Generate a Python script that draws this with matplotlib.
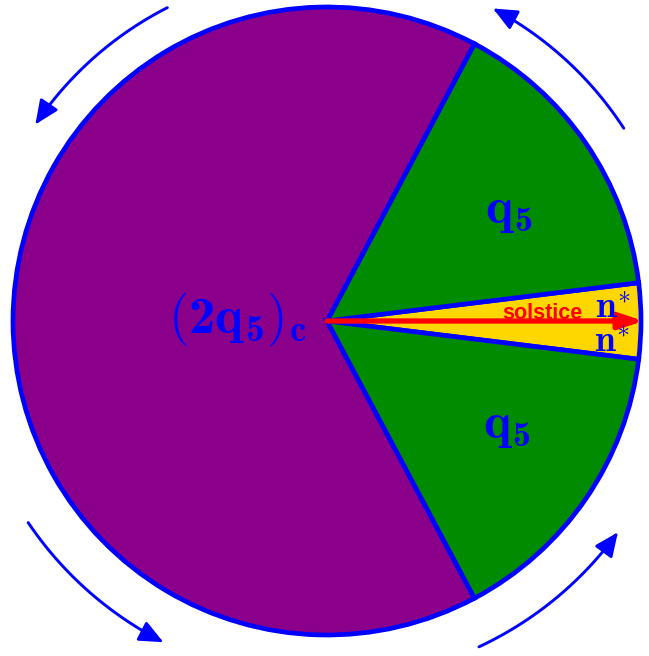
import numpy as np
import matplotlib
matplotlib.use("Agg")
import matplotlib.pyplot as plt
from matplotlib.patches import FancyArrowPatch
from matplotlib.path import Path

plt.rcParams['mathtext.fontset'] = 'custom'
plt.rcParams['mathtext.rm'] = 'cmr10'
plt.rcParams['mathtext.it'] = 'cmmi10'
plt.rcParams['mathtext.bf'] = 'cmb10'

# sector sizes in degrees, going counter-clockwise from the solstice wedge
sizes = [14, 55, 236, 55]
colors = ['#FFD700', '#008B00', '#8B008B', '#008B00']
start = -7

# rotation arrows around the disc: (from angle, to angle, radius)
arc_from = [33, 117, 214, 295]
arc_to = [62, 146, 243, 324]
arc_r = [1.127, 1.12, 1.148, 1.145]

blue = '#0000FF'

fig = plt.figure(figsize=(6.49, 6.56), dpi=100)
ax = fig.add_axes([0, 0, 1, 1])

ax.pie(sizes, colors=colors, startangle=start, counterclock=True, radius=1,
       wedgeprops=dict(edgecolor=blue, linewidth=3.4, joinstyle='miter'))

# red solstice arrow
ax.annotate('', xy=(1.008, 0), xytext=(0, 0),
            arrowprops=dict(arrowstyle='-|>,head_length=0.9,head_width=0.3',
                            color='red', lw=3.8, shrinkA=0, shrinkB=0,
                            mutation_scale=16))

for a0, a1, r in zip(arc_from, arc_to, arc_r):
    t = np.radians(np.linspace(a0, a1, 60))
    p = Path(np.column_stack([r * np.cos(t), r * np.sin(t)]))
    ax.add_patch(FancyArrowPatch(path=p, arrowstyle='-|>,head_length=0.9,head_width=0.4',
                                 color=blue, lw=2.1, mutation_scale=16))

ax.text(0.503, 0.312, r'$\mathbf{q}_\mathbf{5}$', color=blue, fontsize=37,
        ha='left', va='baseline')
ax.text(0.497, -0.373, r'$\mathbf{q}_\mathbf{5}$', color=blue, fontsize=37,
        ha='left', va='baseline')
ax.text(-0.064, -0.041, r'$(\mathbf{2q}_\mathbf{5})_\mathbf{c}$', color=blue, fontsize=38,
        ha='right', va='baseline')
ax.text(0.685, 0.0064, 'solstice', color='red', fontsize=15.5, fontweight='bold',
        family=['Liberation Sans Narrow', 'Liberation Sans'], ha='center', va='baseline')
ax.text(0.854, 0.0096, r'$\mathbf{n}^{\ast}$', color=blue, fontsize=27, ha='left', va='baseline')
ax.text(0.851, -0.099, r'$\mathbf{n}^{\ast}$', color=blue, fontsize=27, ha='left', va='baseline')

ax.set_xlim(-1.0414, 1.0255)
ax.set_ylim(-1.0669, 1.0223)
ax.set_aspect('equal')
ax.axis('off')

fig.savefig('out.png', dpi=100)
